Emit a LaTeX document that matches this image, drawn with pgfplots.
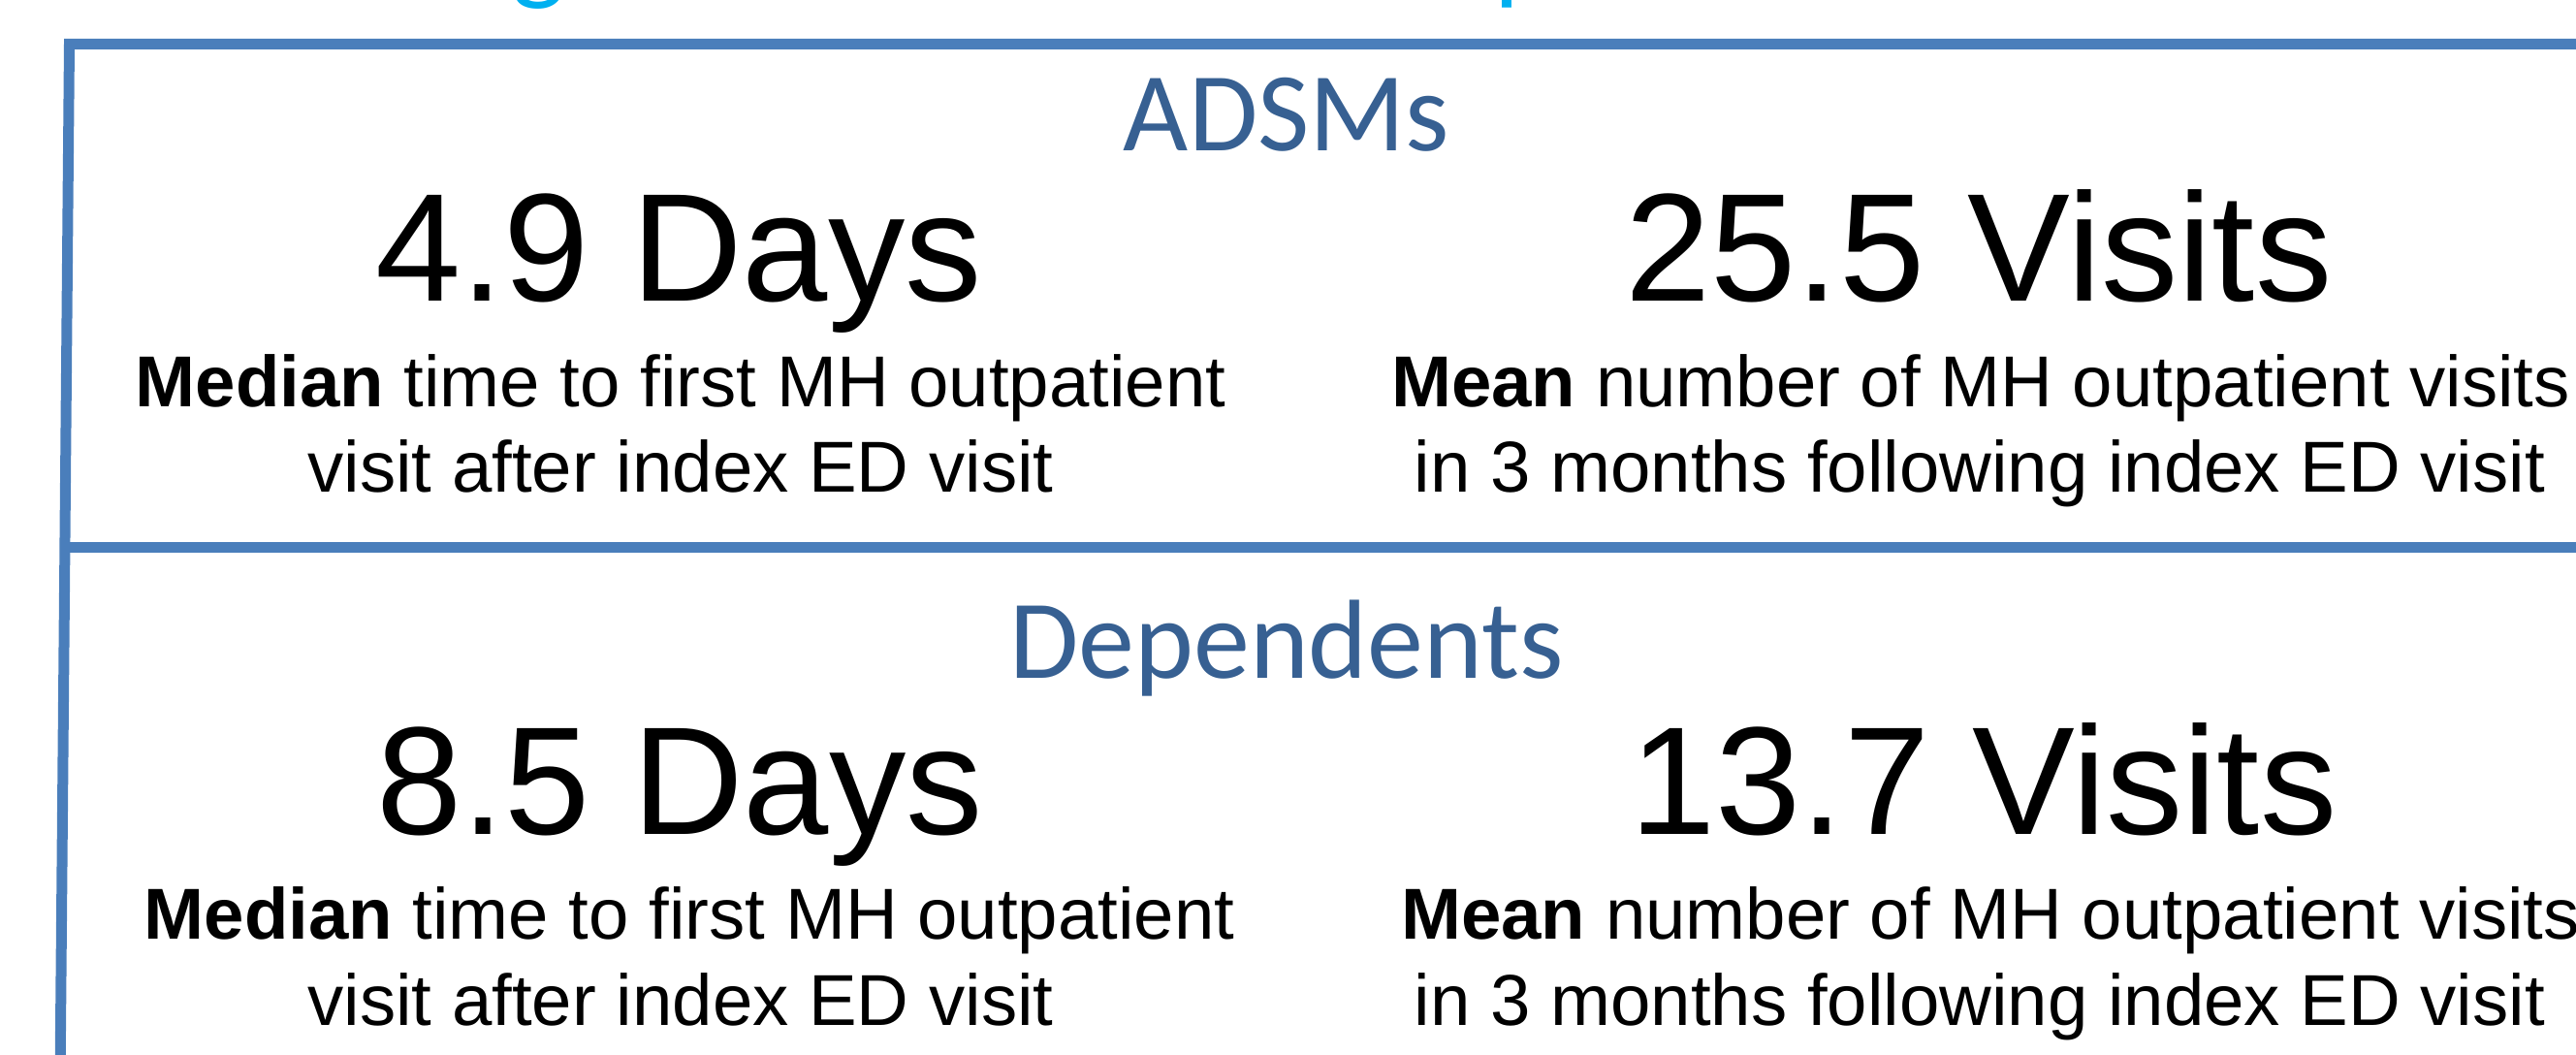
\documentclass[border=0pt]{standalone}
\usepackage{pgfplots}
\pgfplotsset{compat=1.18}
\usepackage{fontspec}
\setmainfont{Liberation Sans}
\newfontfamily\calibri{Carlito}
\definecolor{lineblue}{HTML}{4A7EBB}
\definecolor{headblue}{HTML}{376092}
\definecolor{titlecyan}{HTML}{00B0F0}
\newcommand{\bigfont}{\fontsize{39.65}{40}\selectfont}
\newcommand{\subfont}{\fontsize{18.6}{22}\selectfont}
\newcommand{\headfont}{\calibri\fontsize{29}{30}\selectfont}
\begin{document}
\begin{tikzpicture}
\begin{axis}[
  width=664.25pt, height=272pt, scale only axis,
  xmin=0, xmax=2657, ymin=0, ymax=1088, y dir=reverse,
  hide axis, clip mode=individual,
]
% box lines
\addplot[no markers, line width=2.75pt, color=lineblue, line join=miter]
  coordinates {(2720,45.5) (71.5,45.5) (62,1120)};
\addplot[no markers, line width=2.75pt, color=lineblue]
  coordinates {(70,565) (2720,565)};
% clipped title glyphs (cut off at top)
\node[anchor=base, text=titlecyan, inner sep=0pt] at (556,-10) {\headfont g};
\node[anchor=base, text=titlecyan, inner sep=0pt] at (1572,-10) {\headfont p};
% headers
\node[anchor=base, text=headblue, inner sep=0pt] at (1327,156) {\headfont ADSMs};
\node[anchor=base, text=headblue, inner sep=0pt] at (1327,700) {\headfont Dependents};
% top row
\node[anchor=base, inner sep=0pt] at (700,311) {\bigfont 4.9 Days};
\node[anchor=base, inner sep=0pt] at (2041,311) {\bigfont 25.5 Visits};
\node[anchor=base, inner sep=0pt] at (702,420) {\subfont\textbf{Median} time to first MH outpatient};
\node[anchor=base, inner sep=0pt] at (702,508) {\subfont visit after index ED visit};
\node[anchor=base, inner sep=0pt] at (2043,420) {\subfont\textbf{Mean} number of MH outpatient visits};
\node[anchor=base, inner sep=0pt] at (2042,508) {\subfont in 3 months following index ED visit};
% bottom row
\node[anchor=base, inner sep=0pt] at (701,861) {\bigfont 8.5 Days};
\node[anchor=base, inner sep=0pt] at (2046,861) {\bigfont 13.7 Visits};
\node[anchor=base, inner sep=0pt] at (711,969) {\subfont\textbf{Median} time to first MH outpatient};
\node[anchor=base, inner sep=0pt] at (702,1058) {\subfont visit after index ED visit};
\node[anchor=base, inner sep=0pt] at (2053,969) {\subfont\textbf{Mean} number of MH outpatient visits};
\node[anchor=base, inner sep=0pt] at (2042,1058) {\subfont in 3 months following index ED visit};
\end{axis}
\pgfresetboundingbox
\useasboundingbox (0,0) rectangle (664.25pt,272pt);
\end{tikzpicture}
\end{document}
